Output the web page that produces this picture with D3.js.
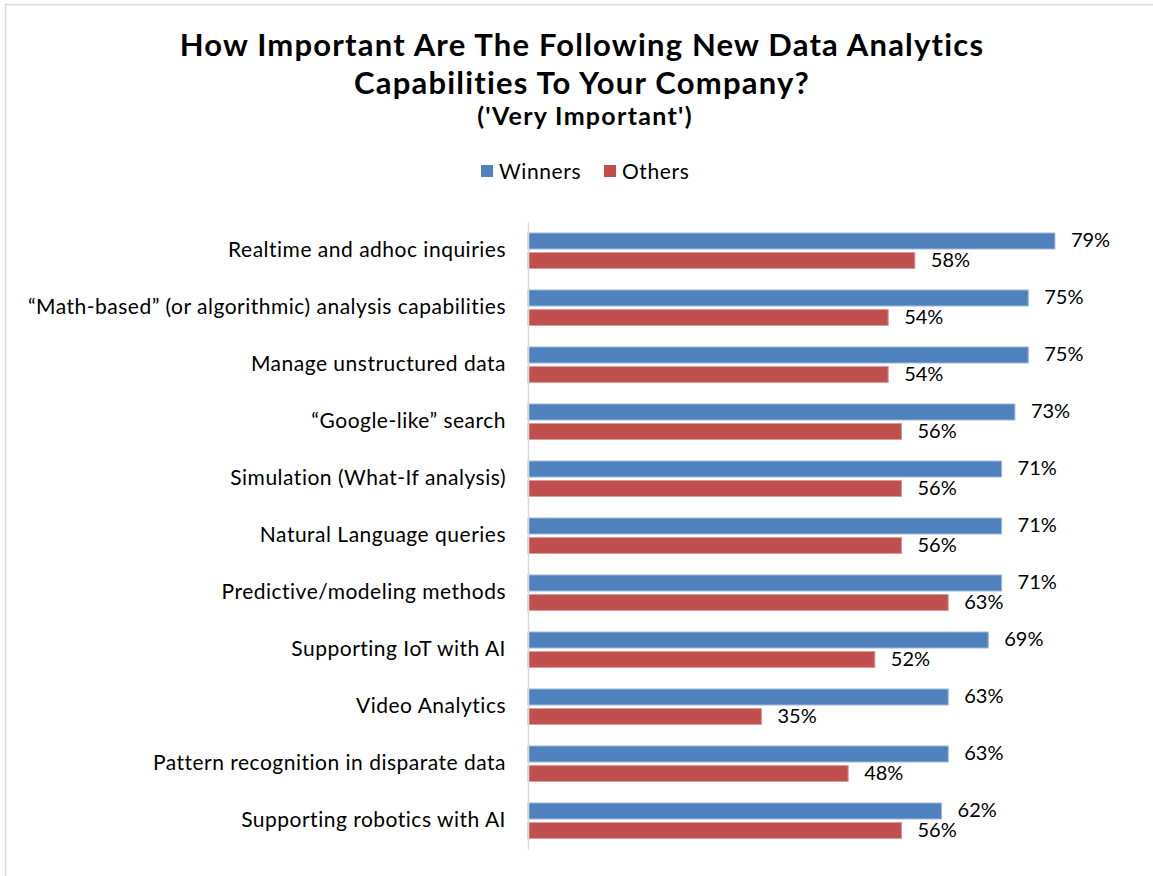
<!DOCTYPE html>
<html>
<head>
  <script src="https://d3js.org/d3.v7.min.js"></script>
  <style>
  html, body {
    margin: 0px;
    background: #fff;
    font-family: Lato, "Open Sans", sans-serif;
  }
  </style>
</head>
<body>
  <svg id="chart"></svg>
  <script>

  // values
  var categories = [
    "Realtime and adhoc inquiries",
    "\u201cMath-based\u201d (or algorithmic) analysis capabilities",
    "Manage unstructured data",
    "\u201cGoogle-like\u201d search",
    "Simulation (What-If analysis)",
    "Natural Language queries",
    "Predictive/modeling methods",
    "Supporting IoT with AI",
    "Video Analytics",
    "Pattern recognition in disparate data",
    "Supporting robotics with AI"
  ]
  var winners = [79, 75, 75, 73, 71, 71, 71, 69, 63, 63, 62]
  var others  = [58, 54, 54, 56, 56, 56, 63, 52, 35, 48, 56]
  var seriesNames = ["Winners", "Others"]
  var titleLines = ["How Important Are The Following New Data Analytics", "Capabilities To Your Company?"]
  var subtitle = "('Very Important')"

  var width = 1153, height = 876
  var colors = ["#4F81BD", "#C0504D"]
  var edges = ["#9db8dc", "#dc9a98"]

  var svg = d3.select("#chart").attr("width", width).attr("height", height)

  // chart frame
  svg.append("path")
    .attr("d", "M5.5," + height + "V4.5H" + width)
    .attr("fill", "none")
    .attr("stroke", "#d9d9d9")
    .attr("stroke-width", 1.5)

  // title
  var title = svg.append("g").attr("text-anchor", "middle").attr("fill", "#000")
  title.selectAll("text.t").data(titleLines).enter().append("text")
    .attr("class", "t")
    .attr("x", 582)
    .attr("y", function(d, i) { return 56 + i * 38 })
    .style("font-size", "31px")
    .style("font-weight", "bold")
    .style("letter-spacing", "1.2px")
    .text(function(d) { return d })
  title.append("text")
    .attr("x", 585).attr("y", 125)
    .style("font-size", "25px")
    .style("font-weight", "bold")
    .style("letter-spacing", "1.3px")
    .text(subtitle)

  // legend
  var legX = [481, 604]
  var leg = svg.append("g")
  seriesNames.forEach(function(name, i) {
    leg.append("rect")
      .attr("x", legX[i]).attr("y", 165)
      .attr("width", 12).attr("height", 12)
      .attr("fill", colors[i])
    leg.append("text")
      .attr("x", legX[i] + 18).attr("y", 179)
      .style("font-size", "21px")
      .style("letter-spacing", "0.6px")
      .text(name)
  })

  // scales
  var x = d3.scaleLinear().domain([0, 100]).range([528, 1195])
  var y = d3.scaleBand().domain(categories).range([222, 849])
  var barH = 16

  var rows = categories.map(function(c, i) {
    return { cat: c, vals: [winners[i], others[i]] }
  })

  var g = svg.append("g")

  var row = g.selectAll("g.row").data(rows).enter().append("g")
    .attr("class", "row")
    .attr("transform", function(d) { return "translate(0," + y(d.cat) + ")" })

  row.selectAll("rect").data(function(d) { return d.vals }).enter().append("rect")
    .attr("x", x(0))
    .attr("y", function(d, i) { return 11 + i * 19.5 })
    .attr("width", function(d) { return x(d) - x(0) })
    .attr("height", barH)
    .attr("fill", function(d, i) { return colors[i] })
    .attr("stroke", function(d, i) { return edges[i] })
    .attr("stroke-width", 1)

  row.selectAll("text.val").data(function(d) { return d.vals }).enter().append("text")
    .attr("class", "val")
    .attr("x", function(d) { return x(d) + 16 })
    .attr("y", function(d, i) { return 11 + i * 19.5 + 14 })
    .style("font-size", "20px")
    .text(function(d) { return d + "%" })

  // category axis
  var axis = d3.axisLeft(y).tickSize(0).tickPadding(22)
  var ax = svg.append("g")
    .attr("transform", "translate(" + x(0) + ",0)")
    .call(axis)
  ax.select(".domain").attr("stroke", "#d9d9d9").attr("stroke-width", 1.5)
  ax.selectAll("text")
    .style("font-family", "Lato, 'Open Sans', sans-serif")
    .style("font-size", "21px")
    .style("letter-spacing", "0.5px")
    .attr("fill", "#000")

  </script>
</body>
</html>
